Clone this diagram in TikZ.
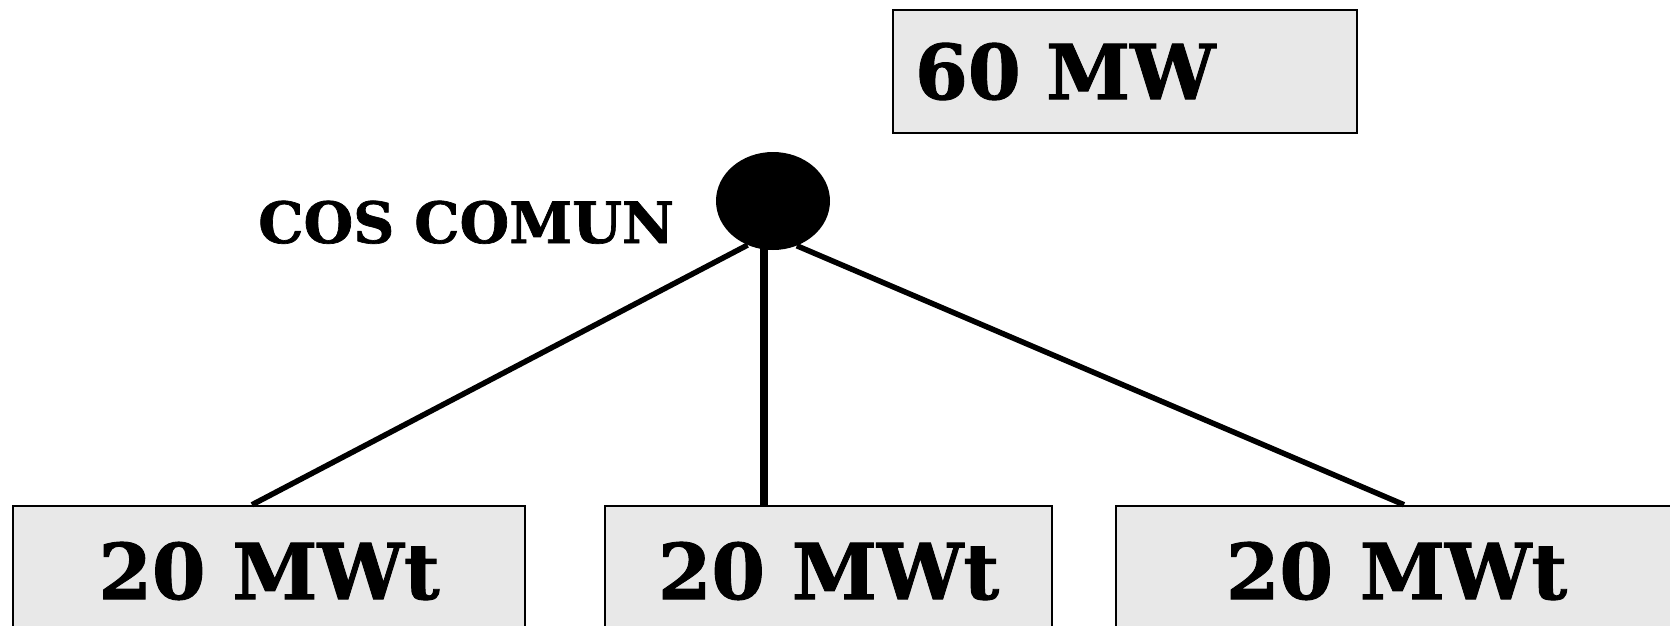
\documentclass[tikz,border=0pt]{standalone}
\usepackage{fontspec}
\setmainfont{DejaVu Serif}[BoldFeatures={FakeBold=1.2}]
\usetikzlibrary{shapes.geometric}
\definecolor{boxgray}{HTML}{E8E8E8}
\tikzset{
  mwbox/.style={draw=black, line width=2.5pt, fill=boxgray, inner sep=0pt, font=\bfseries\fontsize{77}{92}\selectfont},
  link/.style={draw=black, line width=5.5pt},
  trunk/.style={draw=black, line width=8pt},
}
\begin{document}
\begin{tikzpicture}[x=1pt,y=-1pt]
\useasboundingbox (0,0) rectangle (1670,625);
\clip (0,0) rectangle (1670,625);
\node[mwbox, minimum width=464pt, minimum height=123pt, text width=420pt, align=left, font=\bfseries\fontsize{76}{92}\selectfont] (top) at (1125,71.5) {60 MW};
\node[mwbox, minimum width=512pt, minimum height=130pt] (b1) at (269,571) {20 MWt};
\node[mwbox, minimum width=447pt, minimum height=130pt] (b2) at (828.5,571) {20 MWt};
\node[mwbox, minimum width=561pt, minimum height=130pt] (b3) at (1396.5,571) {20 MWt};
\node[ellipse, fill=black, minimum width=114pt, minimum height=98pt, inner sep=0pt] (el) at (773,201) {};
\node[anchor=base west, inner sep=0pt, font=\bfseries\fontsize{57}{68}\selectfont] (lab) at (258,243) {COS COMUN};
\draw[link] (el.240) -- ([xshift=-17pt]b1.north);
\draw[trunk] ([xshift=-9pt]el.center) -- ([xshift=-9pt]el.center |- b2.north);
\draw[link] (el.298) -- ([xshift=7.5pt]b3.north);
\end{tikzpicture}
\end{document}
